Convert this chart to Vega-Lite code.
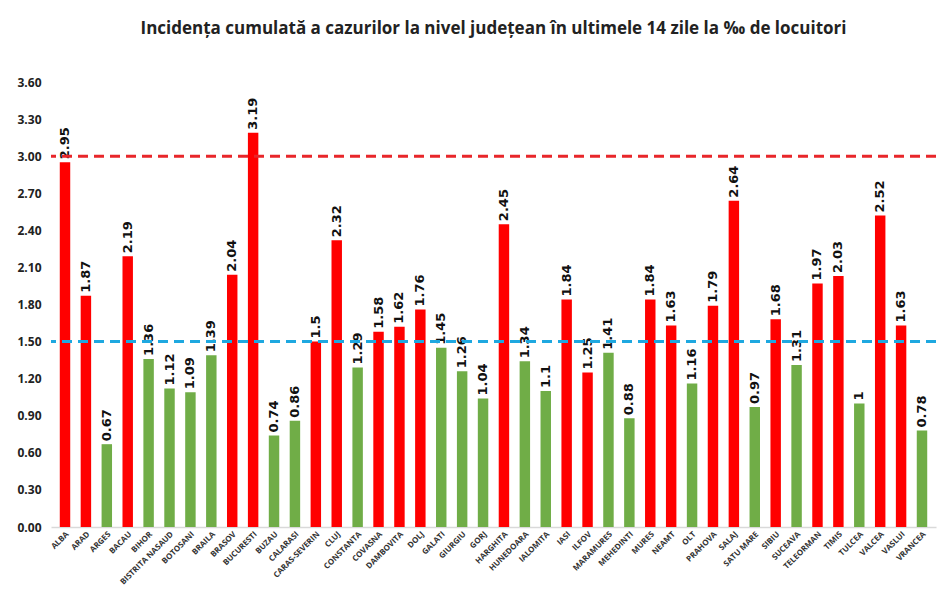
{
  "$schema": "https://vega.github.io/schema/vega-lite/v6.json",
  "background": "white",
  "width": 885,
  "height": 445,
  "padding": {"left": 16, "top": 20, "right": 8, "bottom": 5},
  "title": {
    "text": "Incidența cumulată a cazurilor la nivel județean în ultimele 14 zile la ‰ de locuitori",
    "font": "Open Sans",
    "fontSize": 17,
    "fontWeight": "bold",
    "color": "#222222",
    "offset": 38
  },
  "config": {"view": {"stroke": null}},
  "data": {
    "values": [
      {"judet": "ALBA", "incidenta": 2.95, "trend": "crestere"},
      {"judet": "ARAD", "incidenta": 1.87, "trend": "crestere"},
      {"judet": "ARGES", "incidenta": 0.67, "trend": "scadere"},
      {"judet": "BACAU", "incidenta": 2.19, "trend": "crestere"},
      {"judet": "BIHOR", "incidenta": 1.36, "trend": "scadere"},
      {"judet": "BISTRITA NASAUD", "incidenta": 1.12, "trend": "scadere"},
      {"judet": "BOTOSANI", "incidenta": 1.09, "trend": "scadere"},
      {"judet": "BRAILA", "incidenta": 1.39, "trend": "scadere"},
      {"judet": "BRASOV", "incidenta": 2.04, "trend": "crestere"},
      {"judet": "BUCURESTI", "incidenta": 3.19, "trend": "crestere"},
      {"judet": "BUZAU", "incidenta": 0.74, "trend": "scadere"},
      {"judet": "CALARASI", "incidenta": 0.86, "trend": "scadere"},
      {"judet": "CARAS-SEVERIN", "incidenta": 1.5, "trend": "crestere"},
      {"judet": "CLUJ", "incidenta": 2.32, "trend": "crestere"},
      {"judet": "CONSTANTA", "incidenta": 1.29, "trend": "scadere"},
      {"judet": "COVASNA", "incidenta": 1.58, "trend": "crestere"},
      {"judet": "DAMBOVITA", "incidenta": 1.62, "trend": "crestere"},
      {"judet": "DOLJ", "incidenta": 1.76, "trend": "crestere"},
      {"judet": "GALATI", "incidenta": 1.45, "trend": "scadere"},
      {"judet": "GIURGIU", "incidenta": 1.26, "trend": "scadere"},
      {"judet": "GORJ", "incidenta": 1.04, "trend": "scadere"},
      {"judet": "HARGHITA", "incidenta": 2.45, "trend": "crestere"},
      {"judet": "HUNEDOARA", "incidenta": 1.34, "trend": "scadere"},
      {"judet": "IALOMITA", "incidenta": 1.1, "trend": "scadere"},
      {"judet": "IASI", "incidenta": 1.84, "trend": "crestere"},
      {"judet": "ILFOV", "incidenta": 1.25, "trend": "crestere"},
      {"judet": "MARAMURES", "incidenta": 1.41, "trend": "scadere"},
      {"judet": "MEHEDINTI", "incidenta": 0.88, "trend": "scadere"},
      {"judet": "MURES", "incidenta": 1.84, "trend": "crestere"},
      {"judet": "NEAMT", "incidenta": 1.63, "trend": "crestere"},
      {"judet": "OLT", "incidenta": 1.16, "trend": "scadere"},
      {"judet": "PRAHOVA", "incidenta": 1.79, "trend": "crestere"},
      {"judet": "SALAJ", "incidenta": 2.64, "trend": "crestere"},
      {"judet": "SATU MARE", "incidenta": 0.97, "trend": "scadere"},
      {"judet": "SIBIU", "incidenta": 1.68, "trend": "crestere"},
      {"judet": "SUCEAVA", "incidenta": 1.31, "trend": "scadere"},
      {"judet": "TELEORMAN", "incidenta": 1.97, "trend": "crestere"},
      {"judet": "TIMIS", "incidenta": 2.03, "trend": "crestere"},
      {"judet": "TULCEA", "incidenta": 1, "trend": "scadere"},
      {"judet": "VALCEA", "incidenta": 2.52, "trend": "crestere"},
      {"judet": "VASLUI", "incidenta": 1.63, "trend": "crestere"},
      {"judet": "VRANCEA", "incidenta": 0.78, "trend": "scadere"}
    ]
  },
  "encoding": {
    "x": {
      "field": "judet",
      "type": "nominal",
      "sort": null,
      "title": null,
      "scale": {"paddingInner": 0.5, "paddingOuter": 0.42},
      "axis": {
        "labelAngle": -45,
        "labelAlign": "right",
        "labelBaseline": "top",
        "labelFont": "Open Sans",
        "labelFontSize": 8,
        "labelFontWeight": "bold",
        "labelColor": "#333333",
        "labelPadding": 3,
        "ticks": false,
        "domainColor": "#d9d9d9",
        "domainWidth": 1.5
      }
    },
    "y": {
      "field": "incidenta",
      "type": "quantitative",
      "title": null,
      "scale": {"domain": [0, 3.6], "nice": false},
      "axis": {
        "values": [0, 0.3, 0.6, 0.9, 1.2, 1.5, 1.8, 2.1, 2.4, 2.7, 3.0, 3.3, 3.6],
        "format": ".2f",
        "grid": false,
        "domain": false,
        "ticks": false,
        "labelFont": "Open Sans",
        "labelFontSize": 12,
        "labelFontWeight": "bold",
        "labelColor": "#222222",
        "labelPadding": 10
      }
    }
  },
  "layer": [
    {
      "mark": {"type": "bar"},
      "encoding": {
        "color": {
          "field": "trend",
          "type": "nominal",
          "legend": null,
          "scale": {"domain": ["crestere", "scadere"], "range": ["#ff0000", "#70ad47"]}
        }
      }
    },
    {
      "mark": {
        "type": "text",
        "angle": -90,
        "align": "left",
        "baseline": "middle",
        "dx": 3,
        "font": "DejaVu Sans",
        "fontSize": 13,
        "fontWeight": "bold",
        "color": "#111111"
      },
      "encoding": {"text": {"field": "incidenta", "type": "quantitative", "format": "~g"}}
    },
    {
      "data": {"values": [{"prag": 3.0, "tip": "rosu"}, {"prag": 1.5, "tip": "albastru"}]},
      "mark": {"type": "rule", "strokeDash": [10, 6], "strokeWidth": 3},
      "encoding": {
        "x": null,
        "y": {"field": "prag", "type": "quantitative"},
        "stroke": {
          "field": "tip",
          "type": "nominal",
          "legend": null,
          "scale": {"domain": ["rosu", "albastru"], "range": ["#e8262a", "#1ea8e0"]}
        }
      }
    }
  ]
}
